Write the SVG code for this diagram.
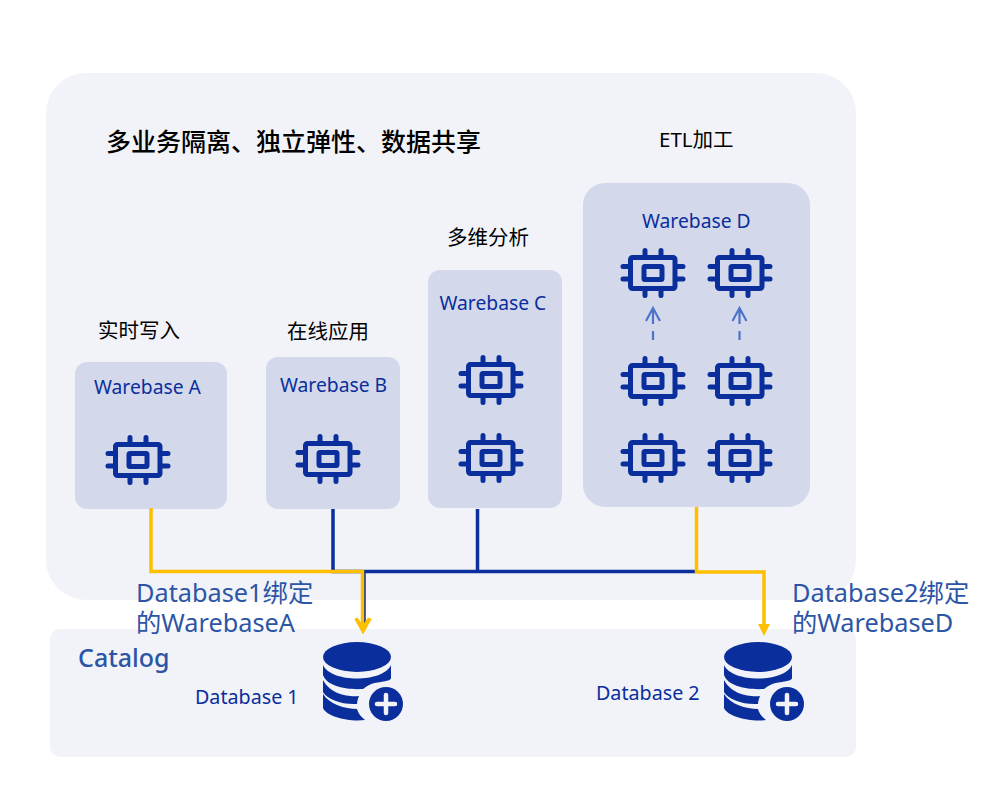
<svg xmlns="http://www.w3.org/2000/svg" xmlns:xlink="http://www.w3.org/1999/xlink" width="1003" height="807" viewBox="0 0 1003 807">
<style>
text{font-family:"Noto Sans","Noto Sans CJK SC",sans-serif}
.bg{fill:#f1f3f9}
.box{fill:#d3d9eb}
.t{font-size:20.500px;fill:#000}
.w{font-size:19.300px;fill:#0a2e9c}
.d{font-size:19.700px;fill:#0a2e9c}
.y{font-size:25.300px;fill:#2c55a5}
.navy{fill:none;stroke:#0a2e9c;stroke-width:3.500}
.gold{fill:none;stroke:#fdbf00;stroke-width:3.500}
.chip rect{fill:none;stroke:#0a2e9c;stroke-width:5;stroke-linejoin:round}
.chip path{fill:none;stroke:#0a2e9c;stroke-width:5;stroke-linecap:round}
.dash{fill:none;stroke:#4d74c8;stroke-width:2.200}
</style>
<defs>
<g id="chip" class="chip">
<rect x="-22.500" y="-15.500" width="44.500" height="31" rx="2"/>
<rect x="-9" y="-6.500" width="18" height="13" rx="1"/>
<path d="M-8-22.500V-17M8-22.500V-17M-8 17V22.500M8 17V22.500M-30-6.500H-24M-30 6H-24M23-6.500H30M23 6H30"/>
</g>
<g id="db" fill="#0a2e9c">
<ellipse cx="0" cy="15" rx="34" ry="15"/>
<path d="M-34 23C-26 41 26 41 34 23V36C34 38 30 39 24 40C14 41 10 44 6 47C-12 48-30 44-34 33Z"/>
<path d="M-34 38C-26 53-8 55 2 54C1 57 0 59 0 62C-15 63-30 57-34 50Z"/>
<path d="M-34 52C-28 62-12 67 0 67C1 71 4 75 8 78C-8 80-30 75-34 66Z"/>
<circle cx="29" cy="62" r="17"/>
<path d="M20 62H38M29 53V71" stroke="#f1f3f9" stroke-width="4.500" stroke-linecap="round" fill="none"/>
</g>
</defs>
<rect width="1003" height="807" fill="#fff"/>
<rect id="panel-top" class="bg" x="46" y="73" width="810" height="527" rx="40"/>
<rect id="panel-catalog" class="bg" x="50" y="629" width="806" height="128" rx="10"/>
<text id="title" x="106" y="151" font-size="25" font-weight="500" fill="#000">多业务隔离、独立弹性、数据共享</text>
<g id="warebase-a">
<rect class="box" x="75" y="362" width="152" height="147" rx="12"/>
<text class="t" x="98" y="338">实时写入</text>
<text class="w" x="94" y="394">Warebase A</text>
<use xlink:href="#chip" href="#chip" x="138" y="460"/>
</g>
<g id="warebase-b">
<rect class="box" x="266" y="357" width="134" height="152" rx="12"/>
<text class="t" x="287" y="339">在线应用</text>
<text class="w" x="280" y="392">Warebase B</text>
<use xlink:href="#chip" href="#chip" x="328" y="459"/>
</g>
<g id="warebase-c">
<rect class="box" x="428" y="270" width="134" height="238" rx="12"/>
<text class="t" x="447" y="245">多维分析</text>
<text class="w" x="439.500" y="309.500">Warebase C</text>
<use xlink:href="#chip" href="#chip" x="491" y="380"/>
<use xlink:href="#chip" href="#chip" x="491" y="458"/>
</g>
<g id="warebase-d">
<rect class="box" x="583" y="183" width="227" height="324" rx="22"/>
<text class="t" x="659" y="147">ETL加工</text>
<text class="w" x="642" y="227.500">Warebase D</text>
<use xlink:href="#chip" href="#chip" x="653" y="273"/>
<use xlink:href="#chip" href="#chip" x="740" y="273"/>
<use xlink:href="#chip" href="#chip" x="653" y="381"/>
<use xlink:href="#chip" href="#chip" x="740" y="381"/>
<use xlink:href="#chip" href="#chip" x="653" y="458"/>
<use xlink:href="#chip" href="#chip" x="740" y="458"/>
<path class="dash" d="M653 340V331M653 324V310M646 321L653 308L660 321M739.500 340V331M739.500 324V310M732.500 321L739.500 308L746.500 321"/>
</g>
<g id="connectors">
<path class="navy" d="M333 509V571.500H696M477.500 509V571.500M364 571.500V628"/>
<path class="gold" d="M151 508V571.500H362.500V630"/>
<path class="gold" d="M696.500 507V572H764V626"/>
<path d="M354.300 619L357.500 617.500L362.700 625L368 617.500L371.700 619L363 634.500Z" fill="#fdbf00"/>
<path d="M758 624H770L764 636Z" fill="#fdbf00"/>
</g>
<text id="label-db1" class="y"><tspan x="136" y="602">Database1绑定</tspan><tspan x="136" y="632">的WarebaseA</tspan></text>
<text id="label-db2" class="y"><tspan x="792" y="602">Database2绑定</tspan><tspan x="792" y="632">的WarebaseD</tspan></text>
<text id="catalog" x="78" y="667" font-size="25" font-weight="500" fill="#2c55a5">Catalog</text>
<g id="database-1">
<text class="d" x="195" y="704">Database 1</text>
<use xlink:href="#db" href="#db" x="357" y="642"/>
</g>
<g id="database-2">
<text class="d" x="596" y="700">Database 2</text>
<use xlink:href="#db" href="#db" x="758" y="642"/>
</g>
</svg>
